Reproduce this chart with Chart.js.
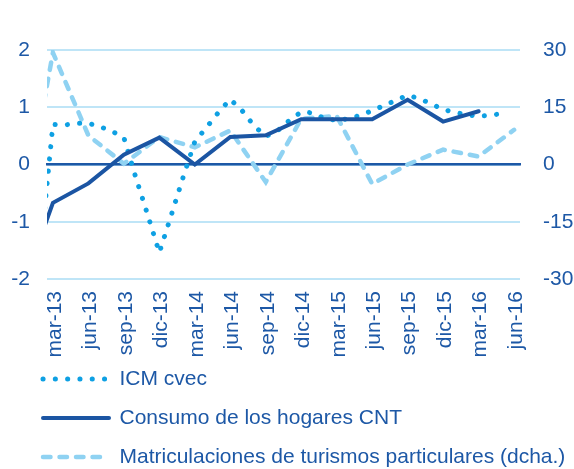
<!DOCTYPE html>
<html>
<head>
<meta charset="utf-8">
<title>ICM, consumo y matriculaciones</title>
<script src="https://cdn.jsdelivr.net/npm/chart.js@4.4.1/dist/chart.umd.min.js"></script>
<style>
  html, body { margin: 0; padding: 0; background: #fff; }
  #wrap { width: 574px; height: 469px; }
</style>
</head>
<body>
<div id="wrap"><canvas id="chart"></canvas></div>
<script>
// --------------------------------------------------
// Data (monthly axis, quarterly series on quarter-end months)
// --------------------------------------------------
const months = [
  "dic-12", "ene-13", "feb-13", "mar-13", "abr-13", "may-13", "jun-13",
  "jul-13", "ago-13", "sep-13", "oct-13", "nov-13", "dic-13",
  "ene-14", "feb-14", "mar-14", "abr-14", "may-14", "jun-14",
  "jul-14", "ago-14", "sep-14", "oct-14", "nov-14", "dic-14",
  "ene-15", "feb-15", "mar-15", "abr-15", "may-15", "jun-15",
  "jul-15", "ago-15", "sep-15", "oct-15", "nov-15", "dic-15",
  "ene-16", "feb-16", "mar-16", "abr-16", "may-16", "jun-16"
];

const tickLabels = [
  "mar-13", "jun-13", "sep-13", "dic-13", "mar-14", "jun-14", "sep-14",
  "dic-14", "mar-15", "jun-15", "sep-15", "dic-15", "mar-16", "jun-16"
];

// ICM cvec, one value per month (left axis)
const icm = [
  null, null, -1.4,
  0.70, 0.69, 0.72, 0.72, 0.66, 0.58, 0.47, -0.22, -0.87, -1.54,
  -0.89, -0.23, 0.40, 0.65, 0.91, 1.14, 0.94, 0.68, 0.49, 0.59,
  0.77, 0.92, 0.90, 0.80, 0.77, 0.80, 0.86, 0.94, 1.03, 1.12,
  1.21, 1.15, 1.06, 0.96, 0.91, 0.87, 0.84, 0.86, 0.89, null
];

const quarters = [
  "dic-12", "mar-13", "jun-13", "sep-13", "dic-13", "mar-14", "jun-14",
  "sep-14", "dic-14", "mar-15", "jun-15", "sep-15", "dic-15", "mar-16", "jun-16"
];

// Consumo de los hogares CNT (left axis)
const consumo = [
  -2.4, -0.67, -0.33, 0.17, 0.47, 0.0, 0.48,
  0.51, 0.79, 0.79, 0.79, 1.13, 0.75, 0.93
];

// Matriculaciones de turismos particulares (right axis)
const matric = [
  -22, 29.3, 7.6, 0.2, 7.2, 4.5, 8.9,
  -4.6, 12.0, 12.7, -5.1, 0.0, 3.9, 2.1, 9.1
];

const DARK = "#1d58a6";
const GRID = "#bfe5f7";
const FONT = { family: "'Liberation Sans', Arial, sans-serif", size: 21 };

const byQuarter = (values) => values.map((v, k) => ({ x: quarters[k], y: v }));

// ticks of the monthly axis only on the quarter months
function quarterTicks(shift) {
  return (scale) => {
    scale.ticks = tickLabels.map((l) => ({ value: months.indexOf(l) + shift }));
  };
}

// legend sits just under the rotated labels, indented like the original
const legendPlacement = {
  id: "legendPlacement",
  afterLayout(chart, args, opts) {
    const lg = chart.legend;
    if (!lg) return;
    lg.left = opts.left;
    lg.top = chart.chartArea.bottom + opts.gap;
    lg.bottom = chart.height;
  },
};

new Chart(document.getElementById("chart"), {
  type: "line",
  plugins: [legendPlacement],
  data: {
    labels: months,
    datasets: [
      {
        label: "ICM cvec",
        data: icm,
        borderColor: "#0ea0e3",
        borderWidth: 5,
        borderDash: [0.1, 12.2],
        borderCapStyle: "round",
        pointRadius: 0,
        order: 1,
      },
      {
        label: "Consumo de los hogares CNT",
        data: byQuarter(consumo),
        borderColor: "#1b55a3",
        borderWidth: 4,
        borderCapStyle: "round",
        pointRadius: 0,
        order: 0,
      },
      {
        label: "Matriculaciones de turismos particulares (dcha.)",
        data: byQuarter(matric),
        yAxisID: "y2",
        borderColor: "#8fd2f2",
        borderWidth: 4.5,
        borderDash: [7.5, 9],
        borderCapStyle: "round",
        pointRadius: 0,
        order: 2,
      },
    ],
  },
  options: {
    responsive: true,
    maintainAspectRatio: false,
    animation: false,
    layout: { padding: { top: 50, left: 0, right: 0, bottom: 0 } },
    plugins: {
      tooltip: { enabled: false },
      legendPlacement: { left: 25, gap: 71.5 },
      legend: {
        position: "bottom",
        align: "start",
        maxHeight: 110,
        labels: {
          usePointStyle: true,
          pointStyle: "line",
          pointStyleWidth: 66,
          padding: 18,
          color: DARK,
          font: FONT,
          generateLabels: (chart) =>
            chart.data.datasets.map((ds, i) => ({
              text: ds.label,
              datasetIndex: i,
              hidden: false,
              fontColor: DARK,
              strokeStyle: ds.borderColor,
              fillStyle: ds.borderColor,
              lineWidth: ds.borderWidth,
              lineDash: ds.borderDash || [],
              lineCap: "round",
              pointStyle: "line",
            })),
        },
      },
    },
    scales: {
      x: {
        type: "category",
        min: "mar-13",
        max: "jun-16",
        offset: true,
        afterBuildTicks: quarterTicks(0),
        afterFit: (s) => { s.height = 80; },
        grid: { display: false, drawTicks: false },
        border: { display: false },
        ticks: {
          color: DARK,
          font: FONT,
          autoSkip: false,
          minRotation: 90,
          maxRotation: 90,
          padding: 12,
          labelOffset: 2,
        },
      },
      // axis line at zero with quarter tick marks
      x2: {
        type: "category",
        min: "mar-13",
        max: "jun-16",
        offset: true,
        position: { y: 0 },
        afterBuildTicks: quarterTicks(-0.5),
        grid: { drawOnChartArea: false, color: DARK, lineWidth: 2, tickLength: 6 },
        border: { color: DARK, width: 2.5 },
        ticks: { display: false },
      },
      y: {
        min: -2,
        max: 2,
        afterFit: (s) => { s.width = 47; },
        grid: { color: GRID, lineWidth: 2, drawTicks: false },
        border: { display: false },
        ticks: { stepSize: 1, color: DARK, font: FONT, padding: 17 },
      },
      y2: {
        position: "right",
        min: -30,
        max: 30,
        afterFit: (s) => { s.width = 54; },
        grid: { display: false, drawTicks: false },
        border: { display: false },
        ticks: { stepSize: 15, color: DARK, font: FONT, padding: 23 },
      },
    },
  },
});
</script>
</body>
</html>
